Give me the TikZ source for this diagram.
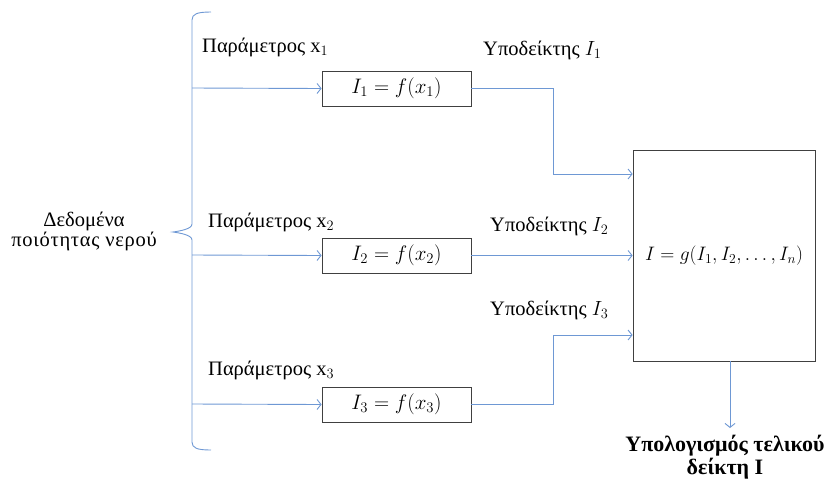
\documentclass[tikz,border=0pt]{standalone}
\usepackage{fix-cm}
\usepackage{fontspec}
\setmainfont{Liberation Serif}
\usetikzlibrary{arrows.meta}
\definecolor{lb}{RGB}{110,152,212}
\definecolor{bd}{RGB}{64,64,64}
\begin{document}
\begin{tikzpicture}[x=1pt,y=-1pt,
  conn/.style={draw=lb, line width=0.9pt},
  arr/.style={conn, -{Straight Barb[length=4pt,width=10pt]}},
  fbox/.style={draw=bd, line width=0.8pt, minimum width=149pt, minimum height=35pt, inner sep=0pt, font=\fontsize{21}{24}\selectfont},
  lbl/.style={font=\fontsize{20.5}{22}\selectfont, inner sep=0pt, anchor=base west}]
\useasboundingbox (0,0) rectangle (827,488);
% brace
\draw[conn] (211,12) .. controls (197,12) and (192,14) .. (192,20) -- (192,224)
  .. controls (192,229) and (180,231) .. (173,232)
  .. controls (180,233) and (192,235) .. (192,240) -- (192,442)
  .. controls (192,448) and (197,450) .. (211,450);
\coordinate (b1) at (192,88);
\coordinate (b2) at (192,255);
\coordinate (b3) at (192,404);
\node[font=\fontsize{20.5}{20}\selectfont, align=center, inner sep=0pt, anchor=base] (data) at (84,246) {Δεδομένα\\{\addfontfeature{LetterSpace=3.5}ποιότητας νερού}};
% boxes
\node[fbox] (B1) at (396.5,88.5) {$I_1 = f(x_1)$};
\node[fbox] (B2) at (396.5,255.5) {$I_2 = f(x_2)$};
\node[fbox] (B3) at (396.5,404.5) {$I_3 = f(x_3)$};
\node[draw=bd, line width=0.8pt, minimum width=182pt, minimum height=211pt, inner sep=0pt, font=\fontsize{19.5}{22}\selectfont] (G) at (724,255.5) {$I = g(I_1, I_2, \ldots, I_n)$};
% labels
\node[lbl] (p1) at (202,52) {Παράμετρος x$_1$};
\node[lbl] (p2) at (208,227) {Παράμετρος x$_2$};
\node[lbl] (p3) at (208,375) {Παράμετρος x$_3$};
\node[lbl] (u1) at (483,55) {Υποδείκτης $I_1$};
\node[lbl] (u2) at (490,231) {Υποδείκτης $I_2$};
\node[lbl] (u3) at (490,315) {Υποδείκτης $I_3$};
% arrows from brace
\draw[arr] (b1) -- (B1.west);
\draw[arr] (b2) -- (B2.west);
\draw[arr] (b3) -- (B3.west);
% connectors to G
\coordinate (k1) at (553,174);
\coordinate (k3) at (553,335);
\draw[arr] (B1.east) -| (k1) -- (k1 -| G.west);
\draw[arr] (B2.east) -- (B2.east -| G.west);
\draw[arr] (B3.east) -| (k3) -- (k3 -| G.west);
% output
\coordinate (o) at (730,428);
\draw[arr] (o |- G.south) -- (o);
\node[font=\fontsize{22}{18}\selectfont\bfseries, align=center, inner sep=0pt, anchor=base] (res) at (725,474) {Υπολογισμός τελικού\\δείκτη Ι};
\end{tikzpicture}
\end{document}
